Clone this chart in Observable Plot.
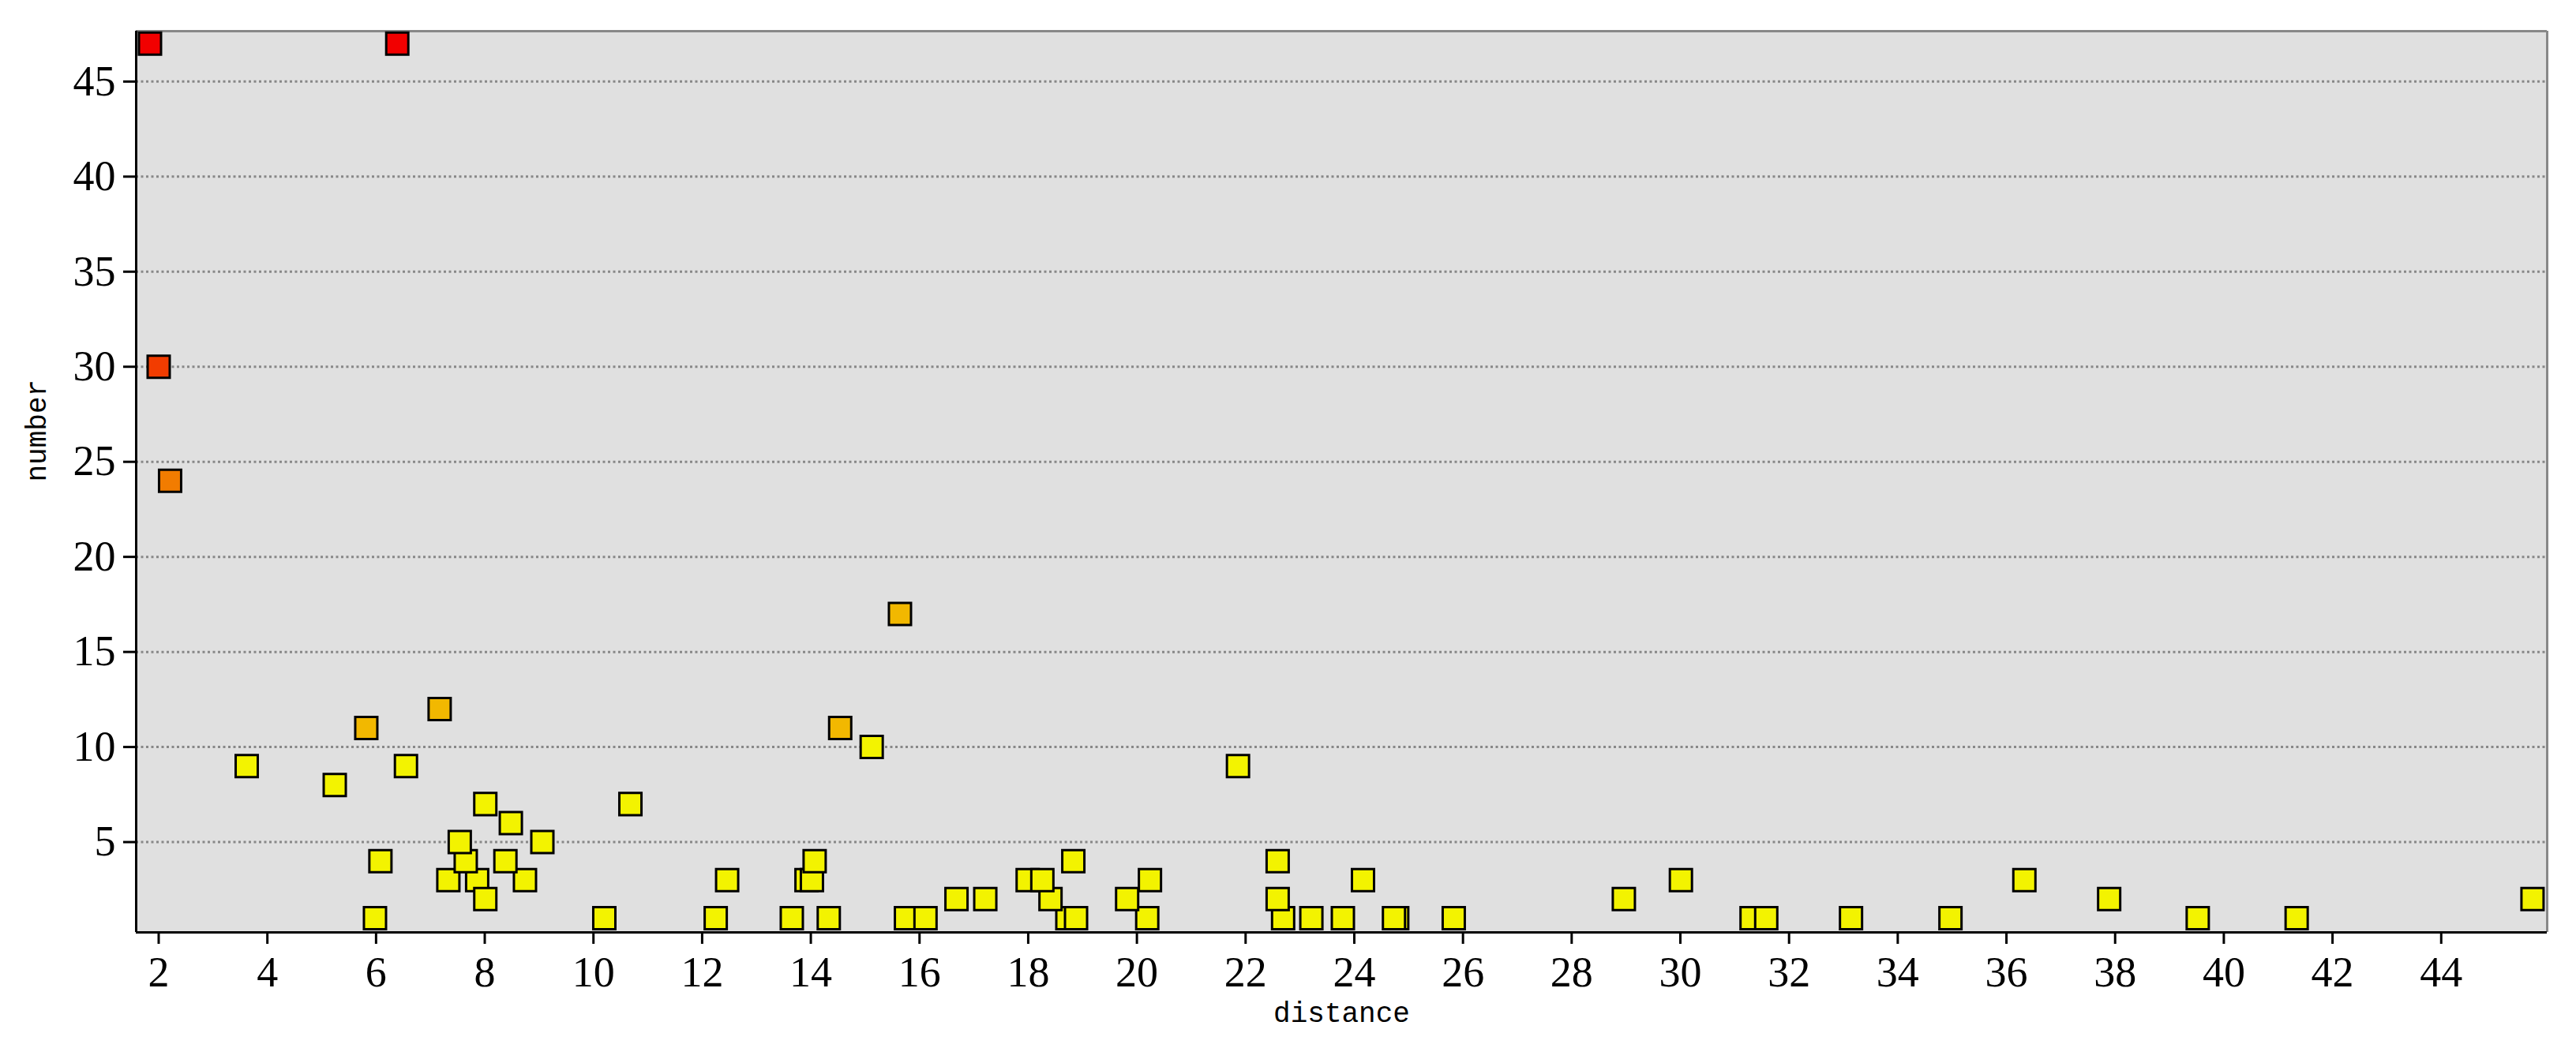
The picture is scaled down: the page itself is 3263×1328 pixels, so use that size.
<!DOCTYPE html>
<html>
<head>
<meta charset="utf-8">
<script src="https://cdn.jsdelivr.net/npm/d3@7"></script>
<script src="https://cdn.jsdelivr.net/npm/@observablehq/plot@0.6"></script>
<style>
  html, body { margin: 0; padding: 0; background: #ffffff; }
  #chart svg { display: block; }
</style>
</head>
<body>
<div id="chart"></div>
<script>
// ---- data ----
const distance = [
  5.98, 10.20, 12.25, 13.65, 14.33, 15.75, 16.11, 18.72, 18.88, 20.19, 22.69, 23.21, 23.79, 24.79, 24.73, 25.83, 31.31, 31.58, 33.14, 34.97, 39.52, 41.34,
  16.68, 17.21, 18.41, 19.82, 22.59, 28.96, 37.89, 45.68,
  7.33, 7.86, 8.74, 12.46, 13.92, 14.02, 17.99, 18.26, 20.24, 24.16, 30.01, 36.33,
  8.01,
  6.08, 7.65, 8.38, 14.07, 18.83, 22.59,
  7.54, 9.06,
  8.48,
  8.01, 10.68,
  5.24,
  3.62, 6.55, 21.86,
  15.12,
  5.82, 14.54,
  7.17,
  15.64,
  2.21,
  2.00,
  1.84, 6.39
];
const number = [
  1, 1, 1, 1, 1, 1, 1, 1, 1, 1, 1, 1, 1, 1, 1, 1, 1, 1, 1, 1, 1, 1,
  2, 2, 2, 2, 2, 2, 2, 2,
  3, 3, 3, 3, 3, 3, 3, 3, 3, 3, 3, 3,
  2,
  4, 4, 4, 4, 4, 4,
  5, 5,
  6,
  7, 7,
  8,
  9, 9, 9,
  10,
  11, 11,
  12,
  17,
  24,
  30,
  47, 47
];
const xTicks = [2, 4, 6, 8, 10, 12, 14, 16, 18, 20, 22, 24, 26, 28, 30, 32, 34, 36, 38, 40, 42, 44];
const yTicks = [5, 10, 15, 20, 25, 30, 35, 40, 45];
const xDomain = [1.586, 45.95];
const yDomain = [0.25, 47.65];
const colorBreaks = [11, 21, 30, 40];
const colorRange = ["#f3f300", "#f2b800", "#f27c00", "#f23c00", "#f20000"];
const xLabel = "distance";
const yLabel = "number";

const data = distance.map((d, i) => ({distance: d, number: number[i]}));

const chart = Plot.plot({
  width: 3263,
  height: 1328,
  marginLeft: 172,
  marginRight: 37,
  marginTop: 39,
  marginBottom: 147,
  style: {background: "white", color: "black", fontFamily: "'Liberation Serif', serif", fontSize: "54px"},
  x: {domain: xDomain, axis: null},
  y: {domain: yDomain, axis: null},
  color: {type: "threshold", domain: colorBreaks, range: colorRange},
  marks: [
    Plot.frame({fill: "#e0e0e0", stroke: "none"}),
    Plot.gridY(yTicks, {stroke: "#888888", strokeOpacity: 1, strokeWidth: 3, strokeDasharray: "3,3.5"}),
    Plot.ruleY([yDomain[1]], {stroke: "#888888", strokeWidth: 3}),
    Plot.ruleX([xDomain[1]], {stroke: "#888888", strokeWidth: 3}),
    Plot.ruleX([xDomain[0]], {stroke: "black", strokeWidth: 3}),
    Plot.ruleY([yDomain[0]], {stroke: "black", strokeWidth: 3}),
    Plot.dot(data, {x: "distance", y: "number", symbol: "square", r: 15.8, fill: "number", stroke: "black", strokeWidth: 3}),
    Plot.axisX(xTicks, {tickSize: 15, tickPadding: 15, strokeWidth: 3, fontSize: 54, fontFamily: "'Liberation Serif', serif", label: null}),
    Plot.axisY(yTicks, {tickSize: 16, tickPadding: 10, strokeWidth: 3, fontSize: 54, fontFamily: "'Liberation Serif', serif", label: null}),
    Plot.text([xLabel], {frameAnchor: "bottom", lineAnchor: "bottom", dy: 113, fontFamily: "'Liberation Mono', monospace", fontSize: 36, fill: "black"}),
    Plot.text([yLabel], {frameAnchor: "left", rotate: -90, lineAnchor: "bottom", dx: -115, fontFamily: "'Liberation Mono', monospace", fontSize: 36, fill: "black"})
  ]
});
document.getElementById("chart").appendChild(chart);
</script>
</body>
</html>
